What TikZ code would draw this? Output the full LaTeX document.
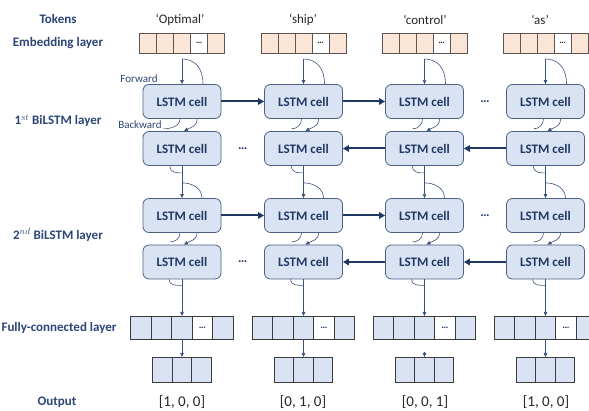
\documentclass[tikz,border=0pt]{standalone}
\usepackage{fontspec}
\setmainfont{Carlito}
\usetikzlibrary{arrows.meta,calc}
\definecolor{navy}{HTML}{203864}
\definecolor{labelblue}{HTML}{2B4576}
\definecolor{cellfill}{HTML}{DAE3F3}
\definecolor{cellline}{HTML}{4A5F82}
\definecolor{embfill}{HTML}{FBE5D6}
\definecolor{embline}{HTML}{5E5552}
\definecolor{boxline}{HTML}{3C3C3C}
\definecolor{linkcol}{HTML}{3A5280}
\definecolor{ink}{HTML}{262626}
\begin{document}
\begin{tikzpicture}[x=1pt,y=-1pt,
  lstm/.style={draw=cellline, fill=cellfill, line width=0.8pt, rounded corners=6pt,
    minimum width=78pt, minimum height=34pt, inner sep=0pt, text=navy,
    font=\fontsize{13}{15}\selectfont\bfseries},
  emb/.style={draw=embline, fill=embfill, line width=0.8pt, minimum width=17pt,
    minimum height=20pt, inner sep=0pt, outer sep=0pt, text=ink,
    font=\fontsize{9}{10}\selectfont\bfseries},
  fcbox/.style={draw=boxline, fill=cellfill, line width=0.8pt, minimum width=20.5pt,
    minimum height=23pt, inner sep=0pt, outer sep=0pt, text=navy,
    font=\fontsize{10}{11}\selectfont\bfseries},
  outbox/.style={fcbox, minimum width=19.5pt, minimum height=25pt},
  blank/.style={fill=white},
  rowlabel/.style={text=labelblue, font=\fontsize{13}{15}\selectfont\bfseries},
  token/.style={text=ink, font=\fontsize{13}{15}\selectfont},
  result/.style={text=ink, font=\fontsize{15}{17}\selectfont},
  dirlabel/.style={text=labelblue, font=\fontsize{11}{13}\selectfont},
  gap/.style={text=navy, font=\fontsize{13}{15}\selectfont\bfseries},
  link/.style={draw=linkcol, line width=0.6pt},
  tip/.style={-{Triangle[length=4pt,width=3.5pt]}},
  feed/.style={draw=linkcol, tip},
  flow/.style={draw=navy, line width=2pt, -{Triangle[length=6pt,width=6.5pt]}}]
\useasboundingbox (0,0) rectangle (589,411);

% row labels on the left
\node[rowlabel] (lt) at (58,19) {Tokens};
\node[rowlabel] (le) at (58,43) {Embedding layer};
\node[rowlabel] (l1) at (58,121) {1$^{st}$ BiLSTM layer};
\node[rowlabel] (l2) at (58,235) {2$^{nd}$ BiLSTM layer};
\node[rowlabel] (lf) at (59,328) {Fully-connected layer};
\node[rowlabel] (lo) at (57,402) {Output};

% input tokens
\node[token] (t1) at (180,20) {‘Optimal’};
\node[token] (t2) at (303,20) {‘ship’};
\node[token] (t3) at (425,20) {‘control’};
\node[token] (t4) at (540,20) {‘as’};

% predicted one-hot outputs
\node[result] (r1) at (182,402) {[1, 0, 0]};
\node[result] (r2) at (303,402) {[0, 1, 0]};
\node[result] (r3) at (425,402) {[0, 0, 1]};
\node[result] (r4) at (546,402) {[1, 0, 0]};

\foreach \i/\x/\w/\s in {1/182/0.7/0,2/303.5/0.7/0,3/424.5/0.35/13,4/545.5/0.7/0}{
  % embedding vector
  \foreach \k/\d in {1/-34,2/-17,3/0,5/34}
    \node[emb] (e\i-\k) at (\x+\d,43) {};
  \node[emb,blank] (e\i-4) at (\x+17,43) {\ldots};
  % LSTM cells of both layers
  \node[lstm] (f1-\i) at (\x,101.5) {LSTM cell};
  \node[lstm] (b1-\i) at (\x,148.5) {LSTM cell};
  \node[lstm] (f2-\i) at (\x,215.5) {LSTM cell};
  \node[lstm] (b2-\i) at (\x,262) {LSTM cell};
  % fully-connected vector
  \foreach \k/\d in {1/-41,2/-20.5,3/0,5/41}
    \node[fcbox] (fc\i-\k) at (\x+\d,327.5) {};
  \node[fcbox,blank] (fc\i-4) at (\x+20.5,327.5) {\ldots};
  % output vector
  \foreach \k/\d in {1/-19.5,2/0,3/19.5}
    \node[outbox] (o\i-\k) at (\x+\d,369.5) {};

  % embedding -> first forward cell
  \draw[feed, line width=\w pt, shorten <=6pt] (e\i-3.south) -- (f1-\i.north);
  \draw[link] ([xshift=21pt]f1-\i.north) .. controls +(0,-17) and +(12,0) .. ($(e\i-3.south)+(0,6)$);
  % forward -> backward, layer 1
  \draw[link, tip] ([xshift=15pt]f1-\i.south) .. controls +(0,8) and +(7,-4) .. ([xshift=2pt]b1-\i.north);
  % layer 1 -> layer 2
  \draw[link] ([xshift=-12pt]b1-\i.south) .. controls +(0,7) and +(-6,0) .. ($(b1-\i.south)+(0,7)$);
  \draw[feed, line width=\w pt] (b1-\i.south) -- (f2-\i.north);
  \draw[link] ([xshift=20pt]f2-\i.north) .. controls +(0,-10) and +(10,0) .. ($(b1-\i.south)+(0,17)$);
  % forward -> backward, layer 2
  \draw[link, tip] ([xshift=15pt]f2-\i.south) .. controls +(0,7) and +(7,-4) .. ([xshift=2pt]b2-\i.north);
  \draw[link] ([xshift=-2pt]f2-\i.south) .. controls +(0,6) and +(5,0) .. +(-10,9);
  % layer 2 -> dense layer -> output
  \draw[link] ([xshift=-13pt]b2-\i.south) .. controls +(0,6) and +(-6,0) .. ($(b2-\i.south)+(0,6)$);
  \draw[feed, line width=\w pt] (b2-\i.south) -- (fc\i-3.north);
  \draw[feed, line width=\w pt, shorten <=\s pt] (fc\i-3.south) -- (o\i-2.north);
}

% backward branch leaving each first-layer forward cell
\draw[link] ([xshift=-2pt]f1-1.south) .. controls +(0,8) and +(6,0) .. +(-17,10);
\foreach \i in {2,3,4}
  \draw[link] ([xshift=-2pt]f1-\i.south) .. controls +(0,6) and +(5,0) .. +(-10,10);

\node[dirlabel] (fw) at (139,79) {Forward};
\node[dirlabel] (bw) at (140,125) {Backward};

% recurrent connections between time steps
\foreach \r in {1,2}{
  \draw[flow] (f\r-1.east) -- (f\r-2.west);
  \draw[flow] (f\r-2.east) -- (f\r-3.west);
  \draw[flow] (b\r-3.west) -- (b\r-2.east);
  \draw[flow] (b\r-4.west) -- (b\r-3.east);
  \node[gap] (gf\r) at ($(f\r-3.east)!0.5!(f\r-4.west)$) {\ldots};
  \node[gap] (gb\r) at ($(b\r-1.east)!0.5!(b\r-2.west)$) {\ldots};
}
\end{tikzpicture}
\end{document}
